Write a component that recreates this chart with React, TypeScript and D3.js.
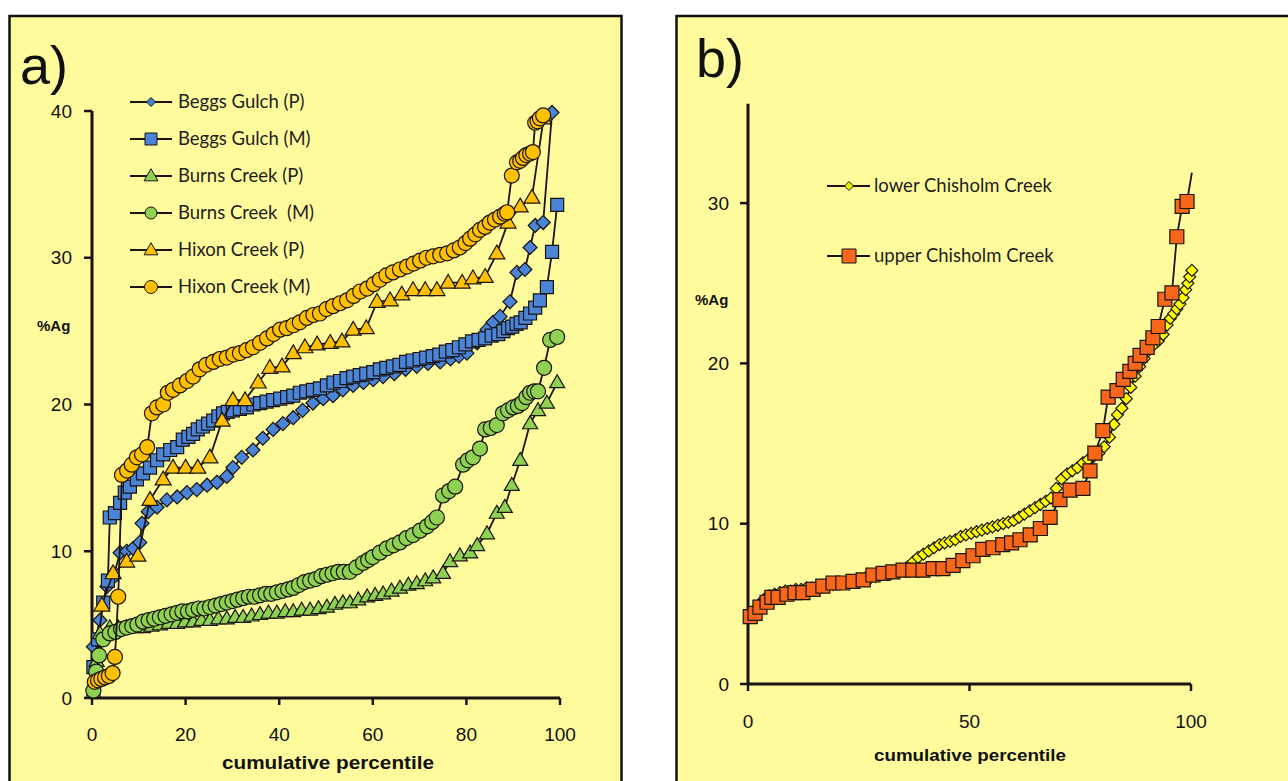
import React from 'react';
import * as d3 from 'd3';

// ---------- Panel a data: [cumulative percentile, %Ag] ----------
const beggsGulchP: [number, number][] = [
  [0.3,3.5],[1.7,5.3],[3.2,7.6],[4.5,8.2],[6.0,9.9],[7.4,10.0],[8.8,10.2],[10.2,10.6],[10.7,11.9],[12.0,12.7],
  [13.9,13.0],[16.0,13.5],[18.2,13.7],[20.3,14.0],[22.4,14.2],[24.6,14.5],[26.7,14.7],[28.8,15.1],[30.1,15.7],[32.0,16.4],
  [34.4,16.9],[36.5,17.7],[38.7,18.3],[40.8,18.7],[43.0,19.1],[45.0,19.6],[47.2,20.1],[49.4,20.4],[51.5,20.6],[53.6,21.0],
  [55.8,21.3],[58.0,21.5],[60.1,21.7],[62.2,21.9],[64.6,22.1],[67.0,22.4],[69.4,22.6],[71.8,22.8],[74.4,22.9],[76.6,23.1],
  [78.4,23.3],[80.1,23.5],[82.3,24.2],[84.4,25.1],[85.7,25.6],[87.2,26.0],[89.3,27.0],[90.8,29.0],[92.5,29.2],[93.6,30.7],
  [94.7,32.2],[96.4,32.4],[98.3,39.9]
];
const beggsGulchM: [number, number][] = [
  [0.3,2.1],[1.3,4.0],[2.4,6.5],[3.4,8.0],[3.8,12.3],[4.9,12.6],[6.0,13.3],[7.0,14.0],[8.1,14.4],[9.6,14.9],
  [10.9,15.3],[12.4,15.7],[13.9,16.2],[15.2,16.6],[16.7,16.9],[18.2,17.1],[19.4,17.6],[20.6,17.8],[21.6,18.0],[22.6,18.3],
  [23.7,18.5],[24.8,18.7],[25.9,18.9],[27.0,19.2],[28.0,19.4],[29.0,19.5],[30.1,19.6],[31.6,19.7],[33.1,19.8],[34.5,20.0],
  [35.9,20.1],[37.3,20.2],[38.7,20.3],[40.2,20.4],[41.7,20.5],[43.0,20.6],[44.4,20.8],[45.8,20.9],[47.2,21.0],[48.7,21.1],
  [50.2,21.3],[51.6,21.5],[53.0,21.6],[54.4,21.8],[55.8,21.9],[57.2,22.0],[58.6,22.1],[60.1,22.2],[61.5,22.4],[62.9,22.5],
  [64.3,22.6],[65.7,22.7],[67.1,22.9],[68.5,23.0],[70.0,23.1],[71.4,23.2],[72.8,23.3],[74.2,23.4],[75.6,23.6],[77.0,23.7],
  [78.4,23.9],[79.8,24.1],[81.2,24.3],[82.6,24.4],[84.0,24.5],[85.4,24.7],[86.8,24.8],[87.9,25.0],[88.9,25.2],[89.8,25.3],
  [90.7,25.5],[91.6,25.6],[92.6,25.9],[93.6,26.2],[94.7,26.6],[95.7,27.1],[97.2,28.0],[98.3,30.4],[99.4,33.6]
];
const burnsCreekP: [number, number][] = [
  [0.3,0.4],[1.0,2.5],[1.7,4.4],[3.8,4.8],[5.6,4.8],[7.4,4.8],[9.2,4.8],[10.9,4.8],[12.7,4.9],[14.5,5.0],
  [16.4,5.1],[18.2,5.1],[19.9,5.2],[21.6,5.2],[23.4,5.3],[25.2,5.3],[27.0,5.4],[28.8,5.4],[30.6,5.5],[32.3,5.5],
  [34.1,5.6],[35.9,5.7],[37.7,5.8],[39.5,5.8],[41.3,5.9],[43.0,5.9],[44.8,6.0],[46.6,6.0],[48.4,6.1],[50.2,6.2],
  [51.9,6.4],[53.6,6.5],[55.1,6.5],[56.9,6.7],[58.8,6.9],[60.5,7.0],[62.2,7.1],[64.0,7.3],[65.8,7.5],[67.6,7.7],
  [69.4,7.8],[71.2,8.0],[72.9,8.2],[75.0,8.5],[76.5,9.3],[78.6,9.7],[80.8,9.9],[82.3,10.4],[84.4,11.2],[86.5,12.6],
  [88.2,13.0],[89.7,14.5],[91.5,16.2],[93.6,18.7],[95.3,19.6],[97.2,20.1],[99.4,21.5]
];
const burnsCreekM: [number, number][] = [
  [0.3,0.5],[0.9,1.8],[1.5,2.9],[2.4,4.0],[3.8,4.4],[5.0,4.5],[6.2,4.7],[7.4,4.8],[8.6,4.9],[9.7,5.0],
  [10.9,5.2],[12.1,5.3],[13.3,5.4],[14.5,5.5],[15.7,5.6],[17.0,5.7],[18.2,5.8],[19.3,5.9],[20.5,5.9],[21.6,6.0],
  [22.8,6.1],[24.0,6.1],[25.2,6.2],[26.4,6.3],[27.6,6.4],[28.8,6.5],[30.0,6.6],[31.1,6.7],[32.3,6.8],[33.5,6.9],
  [34.7,6.9],[35.9,7.0],[37.1,7.1],[38.3,7.1],[39.5,7.2],[40.7,7.3],[41.9,7.4],[43.0,7.5],[44.2,7.7],[45.4,7.9],
  [46.6,8.0],[47.8,8.1],[49.0,8.3],[50.2,8.4],[51.4,8.5],[52.6,8.6],[53.8,8.6],[55.1,8.6],[56.5,8.9],[57.9,9.2],
  [59.0,9.4],[60.0,9.6],[61.5,9.9],[63.0,10.2],[64.4,10.4],[65.8,10.6],[67.2,10.9],[68.6,11.1],[70.1,11.4],[71.6,11.7],
  [72.7,12.0],[73.7,12.3],[75.0,13.8],[76.3,14.1],[77.6,14.4],[79.3,15.9],[80.3,16.2],[81.4,16.4],[82.9,17.0],[84.0,18.3],
  [85.2,18.4],[86.5,18.6],[87.8,19.4],[88.9,19.6],[90.0,19.8],[91.0,19.9],[91.9,20.1],[92.8,20.5],[93.6,20.8],[94.5,20.9],
  [95.3,20.9],[96.6,22.5],[97.9,24.4],[99.4,24.6]
];
const hixonCreekP: [number, number][] = [
  [2.1,6.3],[4.5,8.5],[7.4,9.3],[9.8,9.7],[12.4,13.5],[15.2,14.9],[17.3,15.7],[20.0,15.7],[22.6,15.7],[25.2,16.4],
  [27.8,18.9],[30.1,20.3],[32.7,20.3],[35.5,21.5],[38.0,22.5],[40.6,22.6],[43.0,23.5],[45.5,23.9],[48.1,24.1],[50.9,24.2],
  [53.4,24.3],[55.8,25.1],[58.6,25.2],[60.9,27.0],[63.7,27.1],[66.2,27.5],[68.6,27.8],[71.2,27.8],[73.7,27.8],[76.1,28.3],
  [79.1,28.3],[81.4,28.6],[84.0,28.7],[86.5,30.3],[88.9,32.4],[91.5,33.5],[94.0,34.1],[96.5,39.5]
];
const hixonCreekM: [number, number][] = [
  [0.6,1.1],[1.3,1.2],[2.0,1.3],[2.8,1.4],[3.6,1.5],[4.4,1.7],[4.9,2.8],[5.6,6.9],[6.4,15.2],[7.5,15.5],
  [8.5,15.9],[9.6,16.4],[10.7,16.6],[11.8,17.1],[12.8,19.4],[13.9,19.8],[15.2,20.0],[16.2,20.8],[17.3,21.0],[18.8,21.3],
  [20.3,21.6],[21.6,21.9],[23.0,22.4],[24.4,22.7],[25.9,22.9],[27.3,23.1],[28.8,23.2],[30.2,23.4],[31.6,23.5],[33.0,23.7],
  [34.4,23.9],[35.9,24.2],[37.4,24.5],[38.8,24.8],[40.2,25.1],[41.6,25.2],[43.0,25.4],[44.4,25.6],[45.9,25.9],[47.3,26.1],
  [48.7,26.2],[50.1,26.5],[51.5,26.7],[53.0,26.9],[54.5,27.1],[55.9,27.4],[57.3,27.7],[58.8,27.9],[60.2,28.2],[61.5,28.5],
  [62.9,28.8],[64.3,29.0],[65.8,29.2],[67.3,29.4],[68.7,29.6],[70.1,29.8],[71.5,30.0],[72.9,30.1],[74.4,30.2],[75.9,30.3],
  [77.3,30.5],[78.6,30.7],[79.8,31.0],[80.8,31.3],[81.9,31.6],[82.9,31.9],[84.0,32.1],[85.0,32.4],[86.1,32.6],[87.2,32.8],
  [88.2,33.0],[88.7,33.1],[89.7,35.6],[90.8,36.5],[91.5,36.6],[92.1,36.8],[92.8,37.0],[93.6,37.1],[94.2,37.2],[94.7,39.2],
  [95.2,39.3],[95.7,39.5],[96.4,39.7]
];

// ---------- Panel b data ----------
const lowerChisholm: [number, number][] = [
  [0.5,4.3],[1.5,4.6],[2.6,5.0],[3.7,5.3],[4.8,5.5],[6.0,5.6],[7.2,5.7],[8.4,5.8],[9.6,5.8],[10.8,5.9],
  [12.0,5.9],[13.2,6.0],[14.4,6.0],[15.6,6.1],[16.8,6.1],[18.0,6.2],[19.2,6.2],[20.4,6.3],[21.6,6.3],[22.8,6.4],
  [24.0,6.4],[25.2,6.5],[26.4,6.6],[27.6,6.6],[28.8,6.7],[30.0,6.8],[31.2,6.9],[32.4,6.9],[33.6,7.0],[34.8,7.1],
  [36.0,7.3],[37.2,7.6],[38.4,7.9],[39.6,8.1],[40.8,8.3],[42.0,8.5],[43.2,8.7],[44.4,8.8],[45.6,8.9],[46.8,9.0],
  [48.0,9.2],[49.2,9.3],[50.4,9.4],[51.6,9.5],[52.8,9.6],[54.0,9.7],[55.2,9.8],[56.4,9.9],[57.6,10.0],[58.8,10.1],
  [60.0,10.2],[61.2,10.4],[62.4,10.6],[63.6,10.8],[64.8,11.0],[66.0,11.2],[67.2,11.4],[68.4,11.6],[69.6,12.2],[70.8,12.8],
  [72.0,13.1],[73.2,13.3],[74.4,13.5],[75.6,13.8],[76.8,14.0],[78.0,14.2],[79.2,14.4],[80.4,14.8],[81.6,15.4],[82.6,16.2],
  [83.4,16.8],[84.4,17.2],[85.4,17.8],[86.4,18.5],[87.4,19.2],[88.4,19.8],[89.4,20.3],[90.4,20.8],[91.4,21.1],[92.6,21.4],
  [93.7,21.8],[94.6,22.4],[95.3,22.8],[96.1,23.1],[96.8,23.4],[97.5,23.7],[98.2,24.1],[98.8,24.6],[99.3,25.0],[99.7,25.4],
  [100.2,25.8]
];
const upperChisholm: [number, number][] = [
  [0.5,4.2],[1.6,4.4],[2.7,4.8],[4.3,5.1],[5.4,5.4],[6.8,5.4],[8.8,5.6],[10.6,5.7],[12.4,5.7],[14.7,5.9],
  [16.9,6.1],[19.2,6.3],[21.4,6.3],[23.7,6.4],[26.0,6.5],[28.2,6.8],[30.5,6.9],[32.7,7.0],[35.0,7.1],[37.2,7.1],
  [39.5,7.1],[41.8,7.2],[44.0,7.2],[46.3,7.4],[48.5,7.7],[50.8,8.0],[53.0,8.4],[55.3,8.5],[57.5,8.7],[59.5,8.8],
  [61.4,9.0],[63.7,9.3],[66.0,9.7],[68.2,10.4],[70.4,11.5],[72.7,12.1],[75.6,12.2],[77.2,13.3],[78.3,14.4],[80.1,15.8],
  [81.3,17.9],[83.3,18.3],[84.7,19.0],[86.2,19.5],[87.4,20.0],[88.5,20.5],[90.1,21.0],[91.4,21.6],[92.6,22.3],[94.1,24.0],
  [95.7,24.4],[96.8,27.9],[98.0,29.8],[99.1,30.1]
];
// last line vertex of upper Chisholm Creek (drawn without a marker in the original)
const upperChisholmLineEnd: [number, number][] = [[100.2, 31.9]];

// ---------- Axis ticks & labels ----------
const aYTicks = [0, 10, 20, 30, 40];
const aXTicks = [0, 20, 40, 60, 80, 100];
const bYTicks = [0, 10, 20, 30];
const bXTicks = [0, 50, 100];
const xTitle = 'cumulative percentile';
const yTitle = '%Ag';
const legendA = ['Beggs Gulch (P)', 'Beggs Gulch (M)', 'Burns Creek (P)', 'Burns Creek  (M)', 'Hixon Creek (P)', 'Hixon Creek (M)'];
const legendB = ['lower Chisholm Creek', 'upper Chisholm Creek'];

// ---------- Styles ----------
const BLUE = '#4a84d6';
const GREEN = '#8fd150';
const GOLD = '#ffc000';
const YELLOW = '#ffff00';
const ORANGE = '#f8661a';
const BG = '#fefb9d';
const INK = '#1a1414';

type Sym = { draw: (ctx: any, size: number) => void };
const symCircle: Sym = { draw(ctx, s) { const r = s / 2; ctx.moveTo(r, 0); ctx.arc(0, 0, r, 0, Math.PI * 2); ctx.closePath(); } };
const symSquare: Sym = { draw(ctx, s) { const h = s / 2; ctx.rect(-h, -h, s, s); } };
const symDiamond: Sym = { draw(ctx, s) { const r = s / 2; ctx.moveTo(0, -r); ctx.lineTo(r, 0); ctx.lineTo(0, r); ctx.lineTo(-r, 0); ctx.closePath(); } };
const symTriangle: Sym = { draw(ctx, s) { const w = s / 2; const h = s * 0.86; ctx.moveTo(0, -h * 0.6); ctx.lineTo(w, h * 0.4); ctx.lineTo(-w, h * 0.4); ctx.closePath(); } };

const seriesA = [
  { data: beggsGulchP, sym: symDiamond, size: 14, fill: BLUE, legSize: 9 },
  { data: beggsGulchM, sym: symSquare, size: 13, fill: BLUE, legSize: 12 },
  { data: burnsCreekP, sym: symTriangle, size: 15, fill: GREEN, legSize: 14 },
  { data: burnsCreekM, sym: symCircle, size: 15, fill: GREEN, legSize: 12 },
  { data: hixonCreekP, sym: symTriangle, size: 16, fill: GOLD, legSize: 14 },
  { data: hixonCreekM, sym: symCircle, size: 15, fill: GOLD, legSize: 13 },
];
const seriesB = [
  { data: lowerChisholm, tail: [] as [number, number][], sym: symDiamond, size: 12, fill: YELLOW, legFill: '#e4f000', legSize: 9 },
  { data: upperChisholm, tail: upperChisholmLineEnd, sym: symSquare, size: 14, fill: ORANGE, legFill: ORANGE, legSize: 14 },
];

const symPath = (sym: Sym, size: number) => d3.symbol().type(sym as any).size(size)() as string;

function Series({ data, tail, x, y, sym, size, fill }: any) {
  const line = d3.line<[number, number]>().x(d => x(d[0])).y(d => y(d[1]));
  const pts = tail ? data.concat(tail) : data;
  const p = symPath(sym, size);
  return (
    <g>
      <path d={line(pts) as string} fill="none" stroke={INK} strokeWidth={1.8} />
      {data.map((d: [number, number], i: number) => (
        <path key={i} d={p} transform={`translate(${x(d[0])},${y(d[1])})`} fill={fill} stroke={INK} strokeWidth={1.2} />
      ))}
    </g>
  );
}

const tickFont = { fontFamily: 'Liberation Sans, Arial, sans-serif', fontSize: 19, fill: '#111' };
const titleFont = { fontFamily: 'Liberation Sans, Arial, sans-serif', fontSize: 17, fontWeight: 700, fill: '#111' };
const legFont = { fontFamily: 'Lato, Open Sans, sans-serif', fontSize: 18.5, fill: '#1e1e1e', whiteSpace: 'pre' as const };

export default function App() {
  const xA = d3.scaleLinear().domain([0, 100]).range([92, 560]);
  const yA = d3.scaleLinear().domain([0, 40]).range([698, 111]);
  const xB = d3.scaleLinear().domain([0, 100]).range([748, 1191]);
  const yB = d3.scaleLinear().domain([0, 36.2]).range([684, 103.7]);

  return (
    <div style={{ position: 'absolute', left: 0, top: 0, width: 1288, height: 781, background: '#fff', overflow: 'hidden' }}>
      <svg width={1288} height={781} style={{ display: 'block' }}>
        <rect x={0} y={0} width={1288} height={781} fill="#fff" />
        {/* panel frames */}
        <rect x={9.5} y={16} width={612} height={800} fill={BG} stroke="#111" strokeWidth={2.5} />
        <rect x={676.5} y={16} width={700} height={800} fill={BG} stroke="#111" strokeWidth={2.5} />

        {/* ---------- Panel a ---------- */}
        <text x={20} y={84} style={{ fontFamily: 'Liberation Sans, Arial, sans-serif', fontSize: 54, fill: '#111' }}>a)</text>
        <g>
          <line x1={xA(0)} x2={xA(0)} y1={yA(0)} y2={yA(40)} stroke={INK} strokeWidth={3} />
          <line x1={xA(0)} x2={xA(100)} y1={yA(0)} y2={yA(0)} stroke={INK} strokeWidth={3} />
          {aYTicks.map(t => (
            <g key={'ay' + t}>
              <line x1={xA(0) - 8} x2={xA(0)} y1={yA(t)} y2={yA(t)} stroke={INK} strokeWidth={2.5} />
              <text x={72} y={yA(t)} dy="0.35em" textAnchor="end" style={tickFont}>{t}</text>
            </g>
          ))}
          {aXTicks.map(t => (
            <g key={'ax' + t}>
              <line x1={xA(t)} x2={xA(t)} y1={yA(0)} y2={yA(0) + 7} stroke={INK} strokeWidth={2.5} />
              <text x={xA(t)} y={yA(0) + 36} dy="0.35em" textAnchor="middle" style={tickFont}>{t}</text>
            </g>
          ))}
          <text x={328} y={763} dy="0.35em" textAnchor="middle" style={{ ...titleFont, fontSize: 18 }} textLength={212} lengthAdjust="spacingAndGlyphs">{xTitle}</text>
          <text x={37} y={326} dy="0.35em" style={{ ...titleFont, fontSize: 15 }}>{yTitle}</text>
        </g>
        {seriesA.map((s, i) => (
          <Series key={'sa' + i} data={s.data} x={xA} y={yA} sym={s.sym} size={s.size} fill={s.fill} />
        ))}
        {/* legend a */}
        {seriesA.map((s, i) => {
          const cy = 102 + i * 37;
          return (
            <g key={'la' + i}>
              <line x1={130} x2={172} y1={cy} y2={cy} stroke={INK} strokeWidth={2} />
              <path d={symPath(s.sym, s.legSize)} transform={`translate(151,${cy})`} fill={s.fill} stroke={INK} strokeWidth={1} />
              <text x={178} y={cy} dy="0.35em" style={legFont}>{legendA[i]}</text>
            </g>
          );
        })}

        {/* ---------- Panel b ---------- */}
        <text x={696} y={77} style={{ fontFamily: 'Liberation Sans, Arial, sans-serif', fontSize: 54, fill: '#111' }}>b)</text>
        <g>
          <line x1={xB(0)} x2={xB(0)} y1={yB(0)} y2={yB(36.2)} stroke={INK} strokeWidth={3} />
          <line x1={xB(0)} x2={xB(100)} y1={yB(0)} y2={yB(0)} stroke={INK} strokeWidth={3} />
          {bYTicks.map(t => (
            <g key={'by' + t}>
              <line x1={xB(0) - 8} x2={xB(0)} y1={yB(t)} y2={yB(t)} stroke={INK} strokeWidth={2.5} />
              <text x={729} y={yB(t)} dy="0.35em" textAnchor="end" style={tickFont}>{t}</text>
            </g>
          ))}
          {bXTicks.map(t => (
            <g key={'bx' + t}>
              <line x1={xB(t)} x2={xB(t)} y1={yB(0)} y2={yB(0) + 7} stroke={INK} strokeWidth={2.5} />
              <text x={xB(t)} y={yB(0) + 37} dy="0.35em" textAnchor="middle" style={tickFont}>{t}</text>
            </g>
          ))}
          <text x={970} y={755} dy="0.35em" textAnchor="middle" style={{ ...titleFont, fontSize: 16 }} textLength={192} lengthAdjust="spacingAndGlyphs">{xTitle}</text>
          <text x={695} y={300} dy="0.35em" style={{ ...titleFont, fontSize: 15 }}>{yTitle}</text>
        </g>
        {seriesB.map((s, i) => (
          <Series key={'sb' + i} data={s.data} tail={s.tail} x={xB} y={yB} sym={s.sym} size={s.size} fill={s.fill} />
        ))}
        {seriesB.map((s, i) => {
          const cy = 186 + i * 70;
          return (
            <g key={'lb' + i}>
              <line x1={827} x2={870} y1={cy} y2={cy} stroke={INK} strokeWidth={2} />
              <path d={symPath(s.sym, s.legSize)} transform={`translate(849,${cy})`} fill={s.legFill} stroke={INK} strokeWidth={1} />
              <text x={874} y={cy} dy="0.35em" style={legFont}>{legendB[i]}</text>
            </g>
          );
        })}
      </svg>
    </div>
  );
}
